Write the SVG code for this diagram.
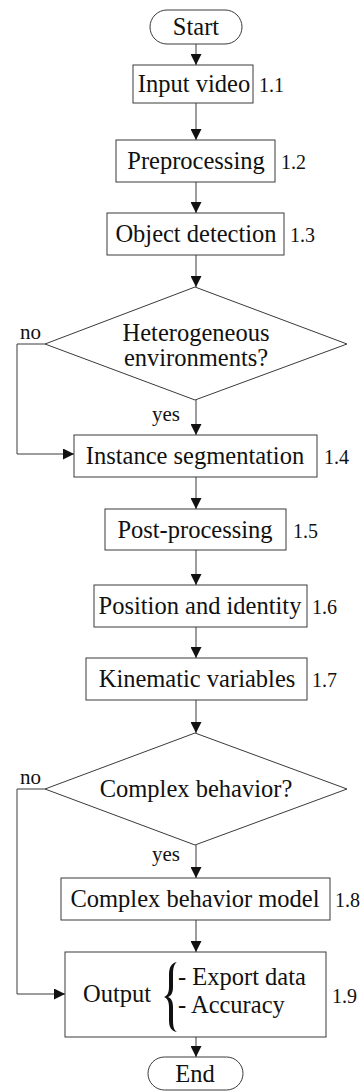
<svg xmlns="http://www.w3.org/2000/svg" width="364" height="1091" viewBox="0 0 364 1091">
  <style>
    .box { fill: #fff; stroke: #3a3a3a; stroke-width: 1; }
    .edge { fill: none; stroke: #3a3a3a; stroke-width: 1; }
    .t { font-family: 'Liberation Serif', 'DejaVu Serif', serif; fill: #111; }
    .lbl { font-size: 24.5px; text-anchor: middle; }
    .num { font-size: 20px; }
    .tag { font-size: 21px; }
  </style>
  <defs>
    <marker id="arrow" viewBox="0 0 10 10" refX="10" refY="5" markerWidth="11" markerHeight="11" markerUnits="userSpaceOnUse" orient="auto">
      <path d="M0,0 L10,5 L0,10 Z" fill="#111"/>
    </marker>
  </defs>
  <rect width="364" height="1091" fill="#fff"/>

  <!-- connectors -->
  <g id="connectors">
    <line class="edge" x1="196" y1="44" x2="196" y2="65" marker-end="url(#arrow)"/>
    <line class="edge" x1="196" y1="103" x2="196" y2="140" marker-end="url(#arrow)"/>
    <line class="edge" x1="196" y1="182" x2="196" y2="213" marker-end="url(#arrow)"/>
    <line class="edge" x1="196" y1="255" x2="196" y2="287" marker-end="url(#arrow)"/>
    <line class="edge" x1="196" y1="400" x2="196" y2="435" marker-end="url(#arrow)"/>
    <polyline class="edge" points="45,344 17,344 17,454 74,454" marker-end="url(#arrow)"/>
    <line class="edge" x1="196" y1="477" x2="196" y2="509" marker-end="url(#arrow)"/>
    <line class="edge" x1="196" y1="550" x2="196" y2="585" marker-end="url(#arrow)"/>
    <line class="edge" x1="196" y1="627" x2="196" y2="658" marker-end="url(#arrow)"/>
    <line class="edge" x1="196" y1="700" x2="196" y2="733" marker-end="url(#arrow)"/>
    <line class="edge" x1="196" y1="845" x2="196" y2="878" marker-end="url(#arrow)"/>
    <polyline class="edge" points="45,789 17,789 17,994 65,994" marker-end="url(#arrow)"/>
    <line class="edge" x1="196" y1="920" x2="196" y2="952" marker-end="url(#arrow)"/>
    <line class="edge" x1="196" y1="1037" x2="196" y2="1057" marker-end="url(#arrow)"/>
    <text class="t tag" x="20" y="339">no</text>
    <text class="t tag" x="152" y="421">yes</text>
    <text class="t tag" x="20" y="784">no</text>
    <text class="t tag" x="152" y="861">yes</text>
  </g>

  <g id="start">
    <rect class="box" x="150" y="10" width="92" height="34" rx="17"/>
    <text class="t lbl" x="196" y="35">Start</text>
  </g>

  <g id="input-video">
    <rect class="box" x="133" y="65" width="120" height="38"/>
    <text class="t lbl" x="194" y="92">Input video</text>
    <text class="t num" x="259" y="92">1.1</text>
  </g>

  <g id="preprocessing">
    <rect class="box" x="116" y="140" width="159" height="42"/>
    <text class="t lbl" x="196" y="169">Preprocessing</text>
    <text class="t num" x="281" y="169">1.2</text>
  </g>

  <g id="object-detection">
    <rect class="box" x="107" y="213" width="177" height="42"/>
    <text class="t lbl" x="196" y="242">Object detection</text>
    <text class="t num" x="290" y="242">1.3</text>
  </g>

  <g id="heterogeneous">
    <polygon class="box" points="195,287 347,344 195,400 45,344"/>
    <text class="t lbl" x="196" y="341">Heterogeneous</text>
    <text class="t lbl" x="196" y="366">environments?</text>
  </g>

  <g id="instance-segmentation">
    <rect class="box" x="74" y="435" width="243" height="42"/>
    <text class="t lbl" x="195" y="464">Instance segmentation</text>
    <text class="t num" x="324" y="464">1.4</text>
  </g>

  <g id="post-processing">
    <rect class="box" x="105" y="509" width="181" height="41"/>
    <text class="t lbl" x="195" y="538">Post-processing</text>
    <text class="t num" x="293" y="538">1.5</text>
  </g>

  <g id="position-identity">
    <rect class="box" x="94" y="585" width="213" height="42"/>
    <text class="t lbl" x="200" y="614">Position and identity</text>
    <text class="t num" x="312" y="614">1.6</text>
  </g>

  <g id="kinematic-variables">
    <rect class="box" x="86" y="658" width="221" height="42"/>
    <text class="t lbl" x="197" y="687">Kinematic variables</text>
    <text class="t num" x="312" y="687">1.7</text>
  </g>

  <g id="complex-behavior">
    <polygon class="box" points="195,733 347,789 195,845 45,789"/>
    <text class="t lbl" x="196" y="797">Complex behavior?</text>
  </g>

  <g id="complex-behavior-model">
    <rect class="box" x="61" y="878" width="269" height="42"/>
    <text class="t lbl" x="195" y="907">Complex behavior model</text>
    <text class="t num" x="335" y="907">1.8</text>
  </g>

  <g id="output">
    <rect class="box" x="65" y="952" width="261" height="85"/>
    <text class="t lbl" x="117" y="1002">Output</text>
    <!-- grouping brace -->
    <path d="M177,962 C171,963 169,968 169,975 L169,987 C169,993 167,996 164,997 C167,998 169,1001 169,1007 L169,1020 C169,1027 171,1031 177,1032 C174,1030 173,1027 173,1020 L173,1007 C173,1001 171,998 168,997 C171,996 173,993 173,987 L173,975 C173,968 174,964 177,962 Z" fill="#111"/>
    <text class="t lbl" x="178" y="985" style="text-anchor:start">- Export data</text>
    <text class="t lbl" x="178" y="1013" style="text-anchor:start">- Accuracy</text>
    <text class="t num" x="332" y="1003">1.9</text>
  </g>

  <g id="end">
    <rect class="box" x="148" y="1057" width="95" height="33" rx="16.5"/>
    <text class="t lbl" x="195" y="1082">End</text>
  </g>
</svg>
